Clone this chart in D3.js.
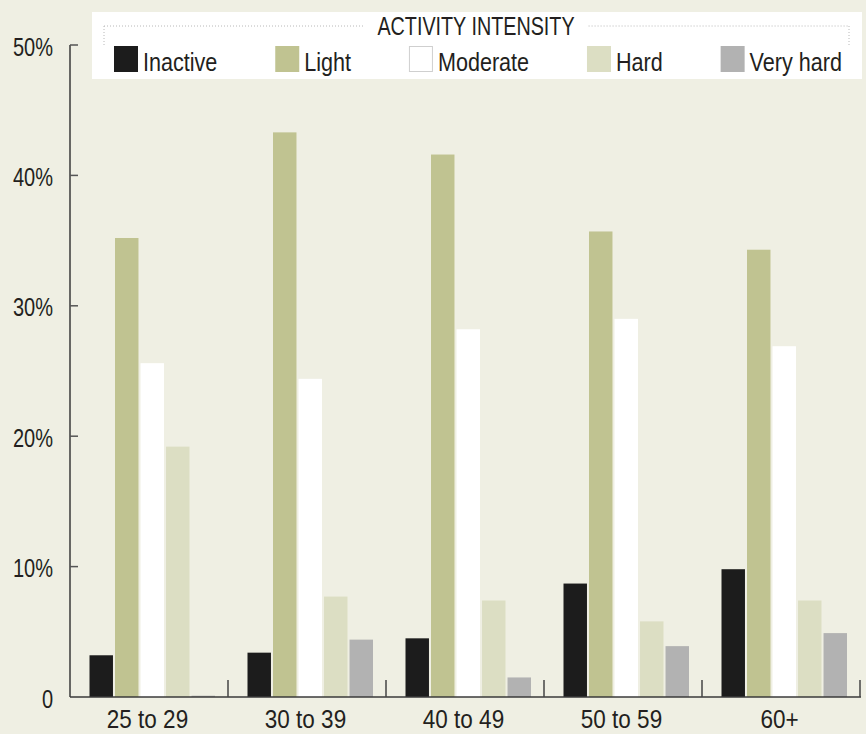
<!DOCTYPE html>
<html><head><meta charset="utf-8">
<script src="https://cdn.jsdelivr.net/npm/d3@7"></script>
<style>
html,body{margin:0;padding:0;background:#efefe3;}
svg{display:block;}
text{font-family:"Liberation Sans",Arial,sans-serif;fill:#231f20;}
</style></head>
<body><svg id="c" width="866" height="734"></svg>
<script>
const categories = ["25 to 29","30 to 39","40 to 49","50 to 59","60+"];
const series = ["Inactive","Light","Moderate","Hard","Very hard"];
const inactive = [3.2, 3.4, 4.5, 8.7, 9.8];
const light    = [35.2, 43.3, 41.6, 35.7, 34.3];
const moderate = [25.6, 24.4, 28.2, 29.0, 26.9];
const hard     = [19.2, 7.7, 7.4, 5.8, 7.4];
const veryHard = [0.1, 4.4, 1.5, 3.9, 4.9];
const yTicks = [0, 10, 20, 30, 40, 50];
const yTickLabels = ["0","10%","20%","30%","40%","50%"];
const legendTitle = "ACTIVITY INTENSITY";

const values = [inactive, light, moderate, hard, veryHard];
const colors = ["#1c1c1c","#c0c391","#ffffff","#dcdec3","#b2b2b2"];

// condense a text horizontally (emulates a condensed typeface)
function condense(t, f) {
  const w = t.node().getComputedTextLength();
  t.attr("textLength", w * f).attr("lengthAdjust", "spacingAndGlyphs");
  return w * f;
}

const svg = d3.select("#c");
const x0 = d3.scaleBand().domain(categories).range([70, 860]).paddingInner(0).paddingOuter(0);
const x1 = d3.scaleBand().domain(series).range([19.5, 145]).paddingInner(0.08);
const y = d3.scaleLinear().domain([0, 50]).range([697, 45]);

// bars
const g = svg.append("g");
categories.forEach((c, ci) => {
  series.forEach((s, si) => {
    const v = values[si][ci];
    g.append("rect")
      .attr("x", x0(c) + x1(s))
      .attr("y", y(v))
      .attr("width", x1.bandwidth())
      .attr("height", y(0) - y(v))
      .attr("fill", colors[si]);
  });
});

// y axis
const yAxis = svg.append("g");
yAxis.append("line").attr("x1", 70).attr("x2", 70).attr("y1", y(50)).attr("y2", y(0))
  .attr("stroke", "#3a3a3a").attr("stroke-width", 1.5);
yTicks.forEach((t, i) => {
  if (t > 0) {
    yAxis.append("line").attr("x1", 70).attr("x2", 78).attr("y1", y(t)).attr("y2", y(t))
      .attr("stroke", "#555").attr("stroke-width", 1.5);
  }
  const tx = yAxis.append("text").attr("x", 53).attr("y", y(t) + 10.5).attr("text-anchor", "end")
    .attr("font-size", 25).text(yTickLabels[i]);
  condense(tx, 0.8);
});

// x axis
const xAxis = svg.append("g");
xAxis.append("line").attr("x1", 70).attr("x2", 861).attr("y1", y(0)).attr("y2", y(0))
  .attr("stroke", "#3a3a3a").attr("stroke-width", 1.5);
categories.forEach(c => {
  const xe = x0(c) + x0.bandwidth();
  xAxis.append("line").attr("x1", xe).attr("x2", xe).attr("y1", y(0)).attr("y2", y(0) - 17)
    .attr("stroke", "#444").attr("stroke-width", 1.5);
  const tx = xAxis.append("text").attr("x", x0(c) + x0.bandwidth() / 2 - 1.5).attr("y", 727.5)
    .attr("text-anchor", "middle").attr("font-size", 25).text(c);
  condense(tx, 0.9);
});

// legend
const lg = svg.append("g");
lg.append("rect").attr("x", 92).attr("y", 12).attr("width", 770).attr("height", 67).attr("fill", "#fff");
const title = lg.append("text").attr("x", 476).attr("y", 35).attr("text-anchor", "middle")
  .attr("font-size", 25).text(legendTitle);
const tw = condense(title, 0.79);
const dot = {stroke: "#b8b8b8", "stroke-width": 1, "stroke-dasharray": "1,2"};
function dl(x1_, y1_, x2_, y2_) {
  const l = lg.append("line").attr("x1", x1_).attr("y1", y1_).attr("x2", x2_).attr("y2", y2_);
  Object.entries(dot).forEach(([k, v]) => l.attr(k, v));
}
dl(104, 26, 476 - tw / 2 - 14, 26);
dl(476 + tw / 2 + 14, 26, 849, 26);
dl(104, 26, 104, 45);
dl(849, 26, 849, 45);

// justified legend row between x=114 and x=842
const items = series.map((s, si) => {
  const it = lg.append("g");
  it.append("rect").attr("class", "sw")
    .attr("y", 46 + (si === 2 ? 0.5 : 0))
    .attr("width", 24 - (si === 2 ? 1 : 0)).attr("height", 26 - (si === 2 ? 1 : 0))
    .attr("fill", colors[si]).attr("stroke", si === 2 ? "#cfcfcf" : "none").attr("stroke-width", 1);
  const t = it.append("text").attr("y", 71).attr("font-size", 26).text(s);
  const w = condense(t, 0.83);
  return {it, t, w, si};
});
const total = items.reduce((a, d) => a + 29 + d.w, 0);
const gap = (842 - 114 - total) / (items.length - 1);
let lx = 114;
items.forEach(d => {
  d.it.select("rect").attr("x", lx + (d.si === 2 ? 0.5 : 0));
  d.t.attr("x", lx + 29);
  lx += 29 + d.w + gap;
});
</script>
</body></html>
